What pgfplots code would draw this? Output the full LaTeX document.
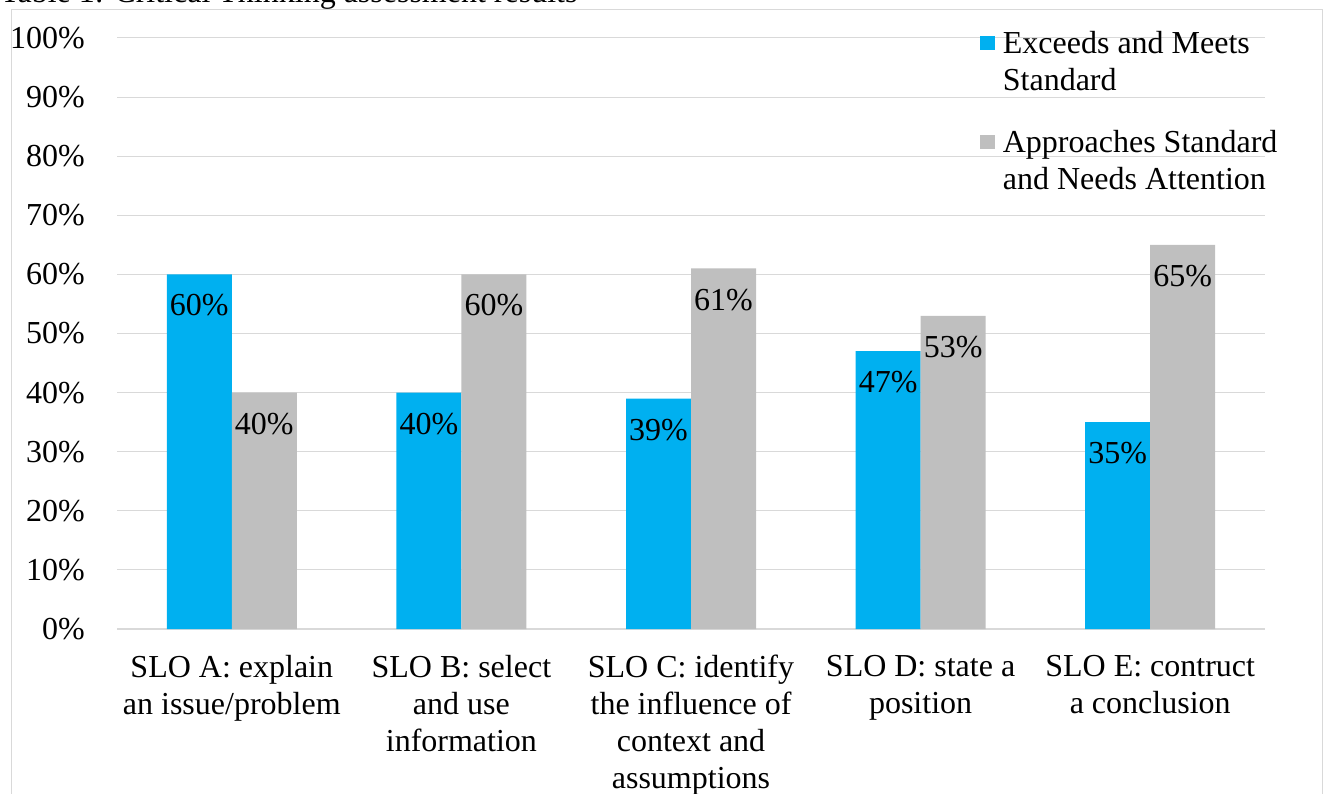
\documentclass[border=0pt]{standalone}
\usepackage{pgfplots}
\pgfplotsset{compat=1.18}
\usepackage{fontspec}
\setmainfont{Liberation Serif}
\definecolor{cblue}{HTML}{00B0F0}
\definecolor{cgray}{HTML}{BFBFBF}
\definecolor{gridgray}{HTML}{D9D9D9}
\begin{document}
\begin{tikzpicture}
\useasboundingbox (0,0) rectangle (993pt,594.75pt);
\draw[gridgray, line width=0.75pt] (8.25pt,-5pt) rectangle (991.5pt,587.25pt);
\node[anchor=base west, inner sep=0pt, font=\fontsize{24}{27.75}\selectfont] at (0pt,592.5pt) {Table 1: Critical Thinking assessment results};
\begin{axis}[
  at={(87.75pt,123pt)}, anchor=south west,
  scale only axis, width=861pt, height=443.25pt,
  font=\fontsize{24}{27.75}\selectfont,
  /pgf/number format/assume math mode=true,
  ybar=0pt, bar width=48.75pt,
  xmin=-0.5, xmax=4.5, ymin=0, ymax=100,
  axis line style={draw=none},
  xmajorgrids=false, ymajorgrids=true,
  major grid style={draw=gridgray, line width=0.75pt},
  major tick length=0pt,
  ytick={0,10,...,100},
  yticklabels={0\%,10\%,20\%,30\%,40\%,50\%,60\%,70\%,80\%,90\%,100\%},
  yticklabel style={anchor=east, inner sep=0pt, xshift=-24pt},
  extra y ticks={0}, extra y tick labels={},
  extra y tick style={grid=major, major grid style={draw=gridgray, line width=1.3pt}},
  xtick={0,1,2,3,4},
  xticklabels={{SLO A: explain\\an issue/problem},{SLO B: select\\and use\\information},{SLO C: identify\\the influence of\\context and\\assumptions},{SLO D: state a\\position},{SLO E: contruct\\a conclusion}},
  xticklabel style={align=center, anchor=north, inner sep=0pt, yshift=-19.5pt},
  nodes near coords={\pgfmathprintnumber{\pgfplotspointmeta}\%},
  every node near coord/.append style={anchor=north, inner sep=0pt, yshift=-15pt, font=\fontsize{24}{27.75}\selectfont, black},
  legend image code/.code={\fill[#1] (0pt,8.4pt) rectangle (11pt,19.4pt);},
  legend style={at={(0.7517,1.017)}, anchor=north west, draw=none, fill=none, inner sep=0pt, row sep=24.5pt, column sep=4pt,
    cells={align=left, anchor=west}, font=\fontsize{24}{27.75}\selectfont},
]
\addplot[fill=cblue, draw=none] coordinates {(0,60) (1,40) (2,39) (3,47) (4,35)};
\addlegendentry{Exceeds and Meets\\Standard}
\addplot[fill=cgray, draw=none] coordinates {(0,40) (1,60) (2,61) (3,53) (4,65)};
\addlegendentry{Approaches Standard\\and Needs Attention}
\end{axis}
\end{tikzpicture}
\end{document}
